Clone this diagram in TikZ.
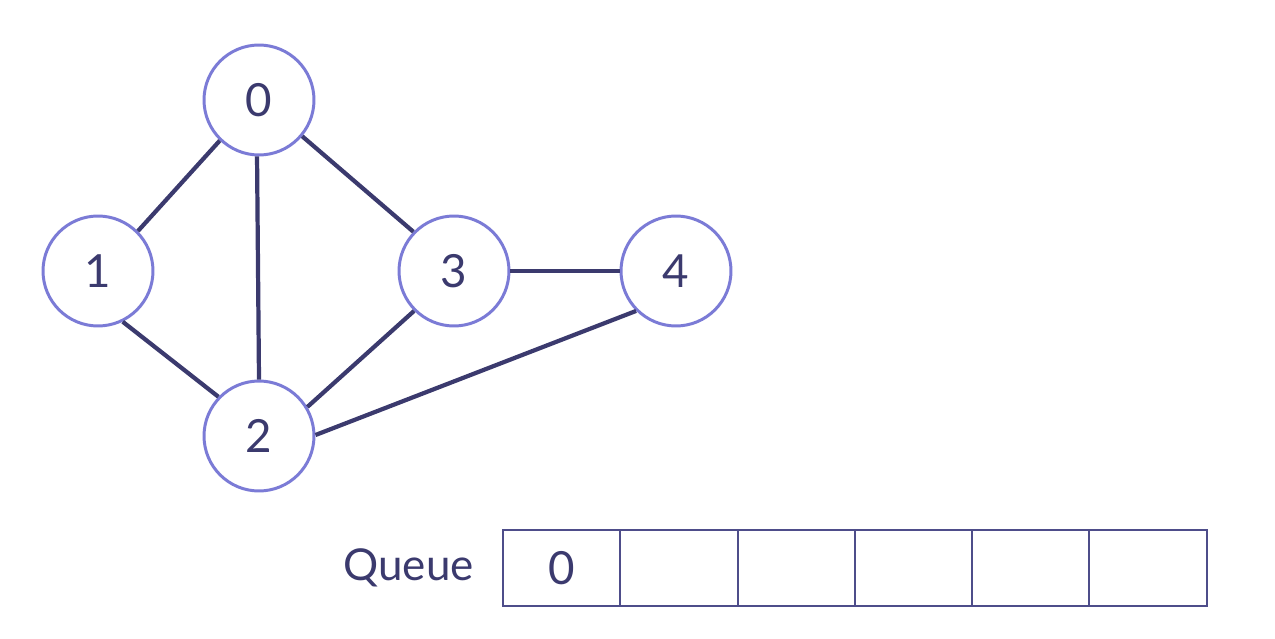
\documentclass[tikz,border=0pt]{standalone}
\usepackage{fontspec}
\setmainfont{Lato}
\usepackage{xcolor}
\usepackage{tikz}
\usetikzlibrary{positioning}
\definecolor{vtxline}{HTML}{7B7BD6}
\definecolor{edgeink}{HTML}{3B3A6E}
\definecolor{cellline}{HTML}{4E4D8A}

\begin{document}
\begin{tikzpicture}[x=0.02cm, y=-0.02cm, font=\fontsize{26}{30}\selectfont, text=edgeink,
	vtx/.style={draw=vtxline, circle, line width=1.7pt, minimum size=2.2cm, inner sep=0pt, fill=white},
	edge/.style={draw=edgeink, line width=2.4pt},
	cell/.style={draw=cellline, line width=1.1pt, minimum width=2.346cm, minimum height=1.52cm, outer sep=0pt, inner sep=0pt}]
		\useasboundingbox (0,0) rectangle (1275,639);
		% the graph
		\node[vtx] (n0) at (259,100) {0};
		\node[vtx] (n1) at (98,271) {1};
		\node[vtx] (n2) at (259,436) {2};
		\node[vtx] (n3) at (454,271) {3};
		\node[vtx] (n4) at (676,271) {4};
		\draw[edge] (n0.226) -- (n1.45);
		\draw[edge] (n0.268) -- (n2.90);
		\draw[edge] (n0.-40) -- (n3.136);
		\draw[edge] (n1.-64) -- (n2.136);
		\draw[edge] (n2.31) -- (n3.225);
		\draw[edge] (n3.east) -- (n4.west);
		\draw[edge] (n2.1) -- (n4.225);
		% the queue
		\node[cell, anchor=north west] (q0) at (503,530) {0};
		\node[cell, right=0cm of q0] (q1) {};
		\node[cell, right=0cm of q1] (q2) {};
		\node[cell, right=0cm of q2] (q3) {};
		\node[cell, right=0cm of q3] (q4) {};
		\node[cell, right=0cm of q4] (q5) {};
		\node[left=0.58cm of q0, inner sep=0pt, font=\fontsize{25}{30}\selectfont] (qlabel) {Queue};
	\end{tikzpicture}
\end{document}
